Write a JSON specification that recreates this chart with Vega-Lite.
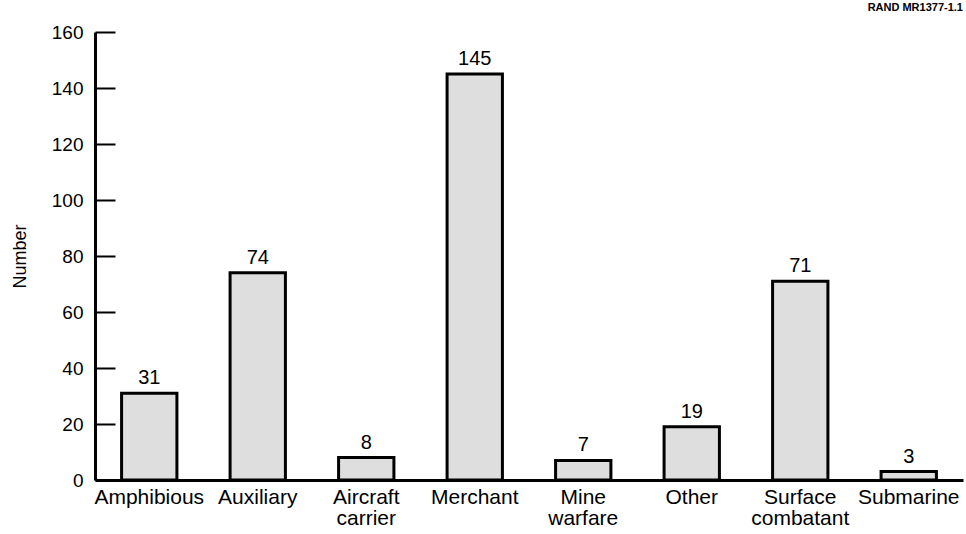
{
  "$schema": "https://vega.github.io/schema/vega-lite/v6.json",
  "width": 868,
  "height": 448,
  "autosize": {"type": "none"},
  "padding": {"left": 95, "top": 32, "right": 3, "bottom": 54},
  "background": "white",
  "title": {"text": "RAND MR1377-1.1", "anchor": "end", "frame": "group", "fontSize": 11, "font": "Liberation Sans", "fontWeight": "bold", "color": "black", "offset": 10},
  "data": {"values": [
    {"type": "Amphibious", "number": 31},
    {"type": "Auxiliary", "number": 74},
    {"type": "Aircraft carrier", "number": 8},
    {"type": "Merchant", "number": 145},
    {"type": "Mine warfare", "number": 7},
    {"type": "Other", "number": 19},
    {"type": "Surface combatant", "number": 71},
    {"type": "Submarine", "number": 3}
  ]},
  "config": {
    "view": {"stroke": null},
    "font": "Liberation Sans",
    "axis": {"labelFont": "Liberation Sans", "titleFont": "Liberation Sans", "labelColor": "black", "titleColor": "black", "domainColor": "black", "tickColor": "black", "grid": false}
  },
  "encoding": {
    "x": {"field": "type", "type": "nominal", "sort": null,
      "scale": {"paddingInner": 0.49, "paddingOuter": 0.245},
      "axis": {"title": null, "labelAngle": 0, "ticks": false, "domainWidth": 3, "labelFontSize": 21, "labelPadding": 6,
        "labelExpr": "indexof(datum.label, ' ') > 0 ? split(datum.label, ' ') : datum.label", "labelLineHeight": 21}},
    "y": {"field": "number", "type": "quantitative",
      "scale": {"domain": [0, 160]},
      "axis": {"title": "Number", "values": [0,20,40,60,80,100,120,140,160], "tickSize": -20, "tickWidth": 2, "domainWidth": 3, "labelFontSize": 19, "labelPadding": 32, "titleFontSize": 18, "titleFontWeight": "normal", "titlePadding": 22}}
  },
  "layer": [
    {"mark": {"type": "bar", "fill": "#dedede", "stroke": "black", "strokeWidth": 3}},
    {"mark": {"type": "text", "baseline": "bottom", "dy": -5, "fontSize": 20, "color": "black"},
     "encoding": {"text": {"field": "number", "type": "quantitative"}}}
  ]
}
